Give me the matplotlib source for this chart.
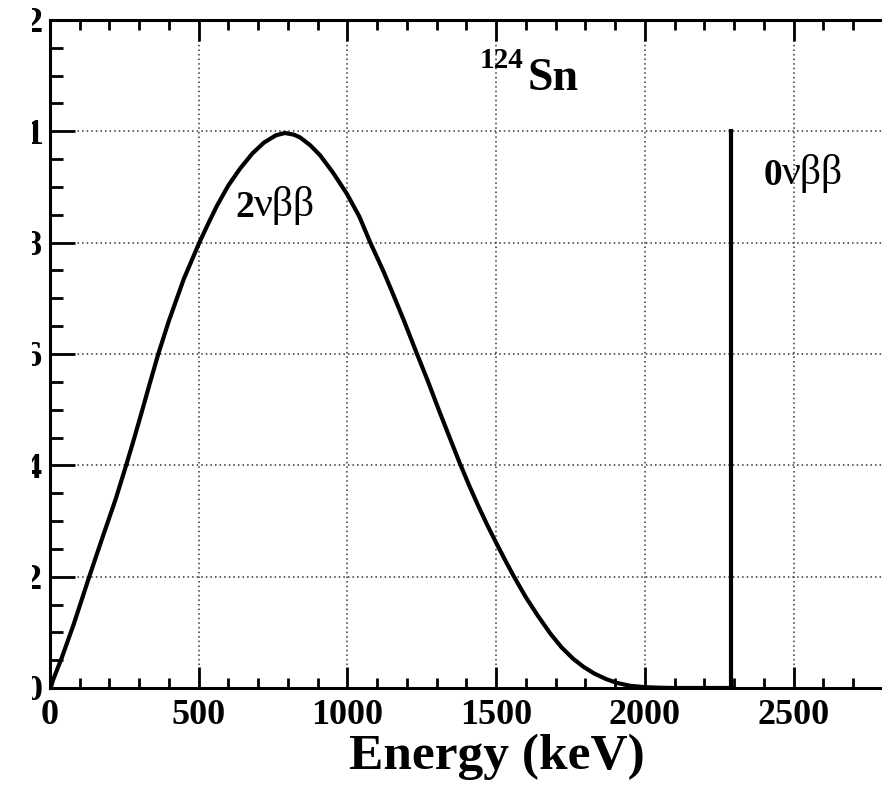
import matplotlib
matplotlib.use('Agg')
import matplotlib.pyplot as plt
from matplotlib.patches import Rectangle
from matplotlib.ticker import MultipleLocator

plt.rcParams['font.family'] = ['Liberation Serif', 'DejaVu Serif']

# 2nbb spectrum of 124Sn (energy in keV, normalised height)
energy_2nu = [5, 10, 40, 80, 132, 180, 220, 256, 280, 308, 336, 364, 400, 450,
              502, 530, 561, 600, 639, 680, 720, 760, 790, 820, 841, 875, 908,
              950, 998, 1040, 1077, 1120, 1150, 1190, 1234, 1270, 1307, 1340,
              1377, 1410, 1440, 1470, 1500, 1530, 1559, 1600, 1640, 1682, 1720,
              1760, 1794, 1830, 1870, 1907, 1950, 2000, 2050, 2100, 2200, 2291]
height_2nu = [0.005, 0.014, 0.055, 0.115, 0.2, 0.276, 0.338, 0.4, 0.443, 0.495,
              0.548, 0.6, 0.66, 0.735, 0.8, 0.832, 0.866, 0.903, 0.933, 0.96,
              0.98, 0.993, 0.997, 0.994, 0.989, 0.975, 0.957, 0.927, 0.888, 0.847,
              0.8, 0.75, 0.712, 0.66, 0.6, 0.552, 0.5, 0.455, 0.405, 0.363,
              0.327, 0.293, 0.261, 0.23, 0.201, 0.163, 0.13, 0.098, 0.073, 0.052,
              0.038, 0.026, 0.016, 0.009, 0.004, 0.0015, 0.0005, 0, 0, 0]

# 0nbb line at the Q value
q_value = 2291
line_0nu = [0, 1.0]

fig = plt.figure(figsize=(8.82, 7.9), dpi=100)
W, H = 882, 790
ax = fig.add_axes([50 / W, (H - 688) / H, 862.5 / W, 668 / H])

ax.plot(energy_2nu, height_2nu, color='black', lw=3, solid_joinstyle='round')
ax.plot([q_value, q_value], line_0nu, color='black', lw=3)

ax.set_xlim(0, 2900)
ax.set_ylim(0, 1.2)
ax.xaxis.set_major_locator(MultipleLocator(500))
ax.xaxis.set_minor_locator(MultipleLocator(100))
ax.yaxis.set_minor_locator(MultipleLocator(0.05))
ax.set_yticks([0, 0.2, 0.4, 0.6, 0.8, 1.0, 1.2])
ax.set_yticklabels(['0', '0.2', '0.4', '0.6', '0.8', '1', '1.2'])

ax.grid(True, which='major', linestyle=(0, (1, 2)), color='#333333', lw=1.1)

ax.tick_params(axis='both', which='both', direction='in', top=True, right=True,
               width=2, colors='black')
ax.tick_params(axis='x', which='major', length=15, pad=8)
ax.tick_params(axis='x', which='minor', length=7)
ax.tick_params(axis='y', which='major', length=18, pad=5)
ax.tick_params(axis='y', which='minor', length=9)
for lab in ax.get_xticklabels() + ax.get_yticklabels():
    lab.set_fontsize(26)
    lab.set_fontweight('bold')

for sp in ax.spines.values():
    sp.set_linewidth(2.2)

ax.set_xlabel('Energy (keV)', fontsize=37, fontweight='bold')
ax.xaxis.label.set_va('baseline')
ax.xaxis.set_label_coords((497 - 50) / 862.5, (688 - 769) / 668)

# labels
ax.text(1446, 1.114, '124', fontsize=21, fontweight='bold', va='baseline')
ax.text(1607, 1.074, 'Sn', fontsize=33, fontweight='bold', va='baseline')

t2 = ax.text(622, 0.846, '2', fontsize=27, fontweight='bold', va='baseline')
ax.annotate('νββ', xy=(1, 0), xycoords=t2, fontsize=30, va='bottom', ha='left')
t0 = ax.text(2398, 0.9035, '0', fontsize=27, fontweight='bold', va='baseline')
ax.annotate('νββ', xy=(1, 0), xycoords=t0, fontsize=30, va='bottom', ha='left')

# the reference is cropped on the left
fig.patches.append(Rectangle((0, 0), 32 / W, 1, transform=fig.transFigure,
                             facecolor='white', edgecolor='none', zorder=10))

fig.savefig('out.png', dpi=100)
